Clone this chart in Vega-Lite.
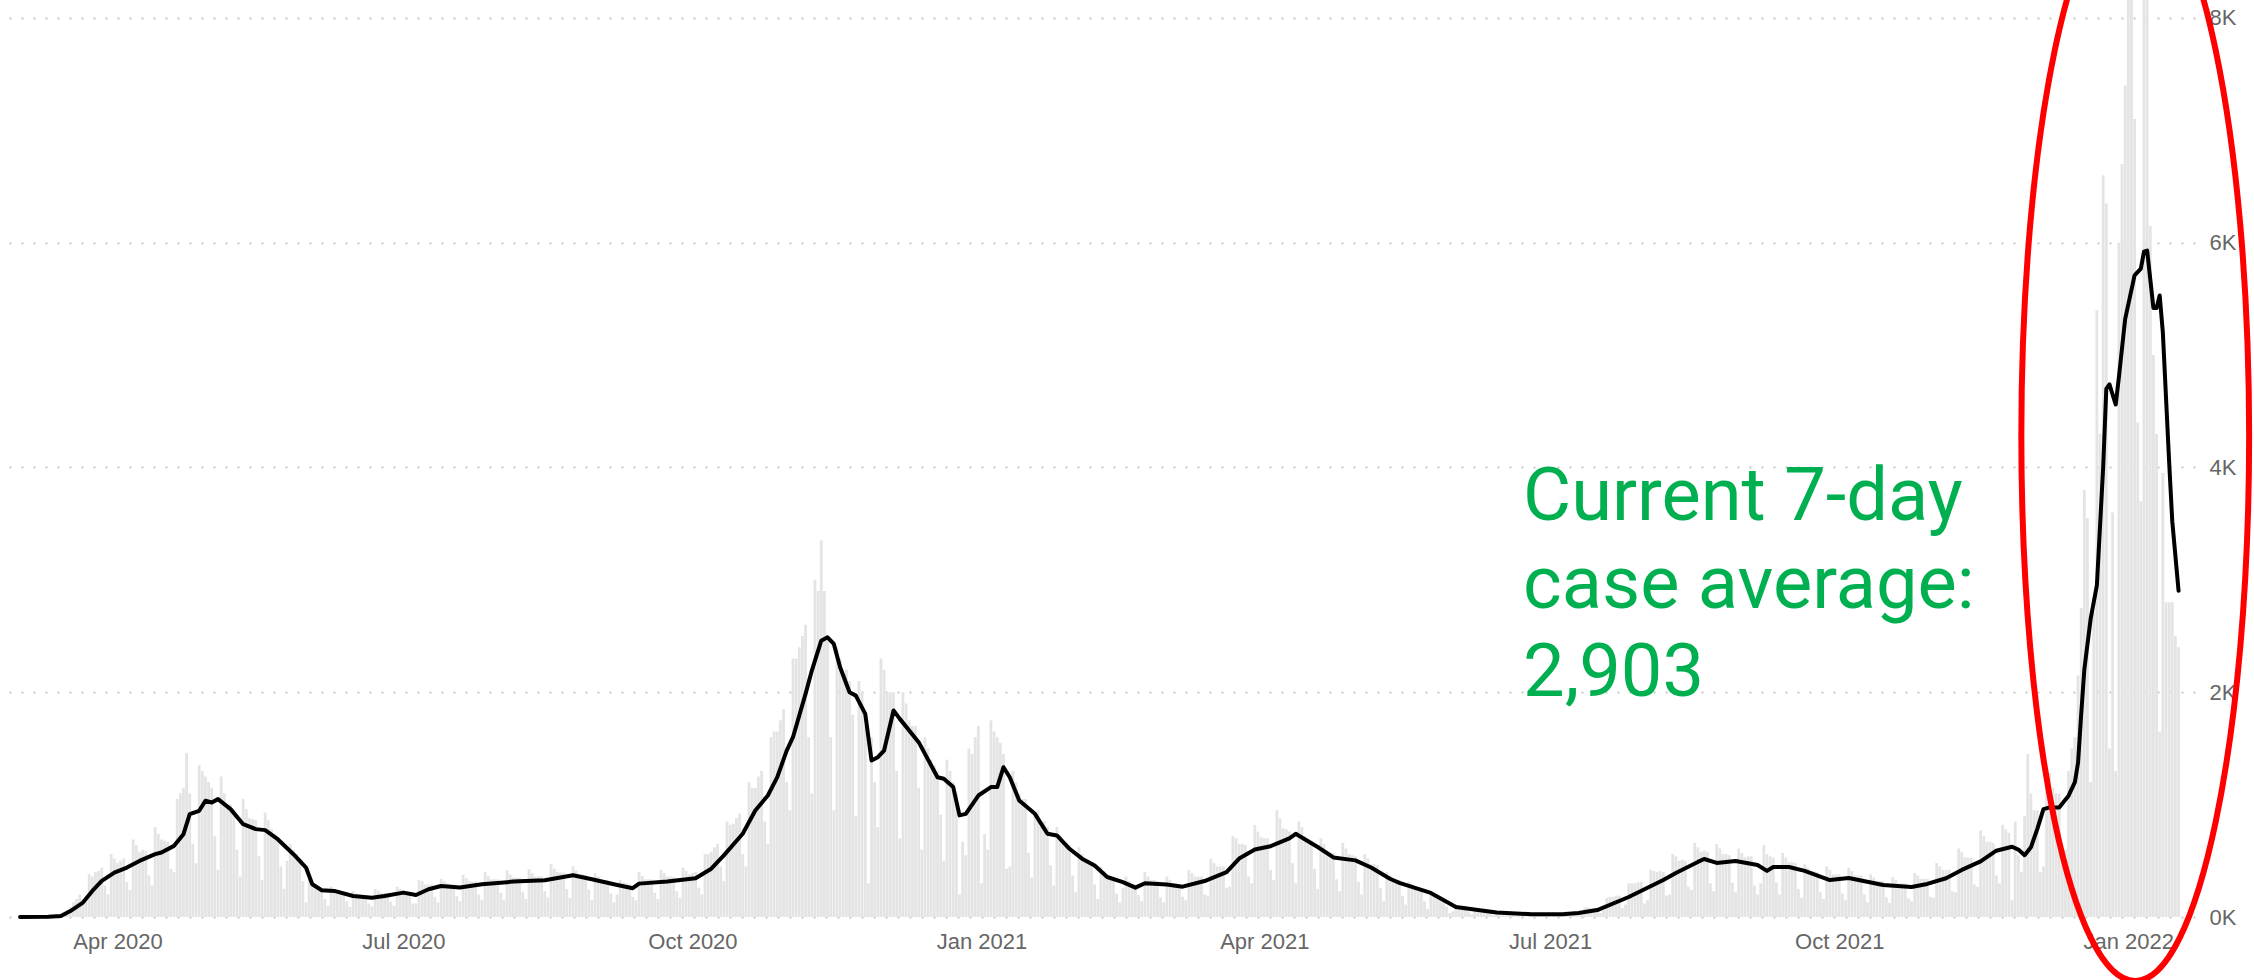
{
"$schema": "https://vega.github.io/schema/vega-lite/v6.json",
"width": 2195,
"height": 917,
"autosize": {"type": "none"},
"padding": {"left": 0, "top": 0, "right": 59, "bottom": 63},
"background": "white",
"config": {"view": {"stroke": null}},
"datasets": {
"daily": [
{"d":"2020-03-01","v":0},{"d":"2020-03-02","v":0},{"d":"2020-03-03","v":0},{"d":"2020-03-04","v":1},{"d":"2020-03-05","v":0},{"d":"2020-03-06","v":2},{"d":"2020-03-07","v":1},
{"d":"2020-03-08","v":2},{"d":"2020-03-09","v":5},{"d":"2020-03-10","v":6},{"d":"2020-03-11","v":10},{"d":"2020-03-12","v":12},{"d":"2020-03-13","v":15},{"d":"2020-03-14","v":6},
{"d":"2020-03-15","v":20},{"d":"2020-03-16","v":60},{"d":"2020-03-17","v":90},{"d":"2020-03-18","v":130},{"d":"2020-03-19","v":160},{"d":"2020-03-20","v":200},{"d":"2020-03-21","v":150},
{"d":"2020-03-22","v":150},{"d":"2020-03-23","v":380},{"d":"2020-03-24","v":360},{"d":"2020-03-25","v":400},{"d":"2020-03-26","v":410},{"d":"2020-03-27","v":440},{"d":"2020-03-28","v":280},
{"d":"2020-03-29","v":200},{"d":"2020-03-30","v":560},{"d":"2020-03-31","v":520},{"d":"2020-04-01","v":480},{"d":"2020-04-02","v":500},{"d":"2020-04-03","v":520},{"d":"2020-04-04","v":310},
{"d":"2020-04-05","v":240},{"d":"2020-04-06","v":690},{"d":"2020-04-07","v":640},{"d":"2020-04-08","v":580},{"d":"2020-04-09","v":600},{"d":"2020-04-10","v":590},{"d":"2020-04-11","v":370},
{"d":"2020-04-12","v":280},{"d":"2020-04-13","v":800},{"d":"2020-04-14","v":740},{"d":"2020-04-15","v":690},{"d":"2020-04-16","v":680},{"d":"2020-04-17","v":670},{"d":"2020-04-18","v":430},
{"d":"2020-04-19","v":400},{"d":"2020-04-20","v":1050},{"d":"2020-04-21","v":1100},{"d":"2020-04-22","v":1150},{"d":"2020-04-23","v":1460},{"d":"2020-04-24","v":1100},{"d":"2020-04-25","v":650},
{"d":"2020-04-26","v":480},{"d":"2020-04-27","v":1350},{"d":"2020-04-28","v":1300},{"d":"2020-04-29","v":1250},{"d":"2020-04-30","v":1200},{"d":"2020-05-01","v":1150},{"d":"2020-05-02","v":720},
{"d":"2020-05-03","v":420},{"d":"2020-05-04","v":1250},{"d":"2020-05-05","v":1100},{"d":"2020-05-06","v":980},{"d":"2020-05-07","v":1000},{"d":"2020-05-08","v":950},{"d":"2020-05-09","v":600},
{"d":"2020-05-10","v":360},{"d":"2020-05-11","v":1050},{"d":"2020-05-12","v":960},{"d":"2020-05-13","v":880},{"d":"2020-05-14","v":870},{"d":"2020-05-15","v":860},{"d":"2020-05-16","v":540},
{"d":"2020-05-17","v":330},{"d":"2020-05-18","v":930},{"d":"2020-05-19","v":860},{"d":"2020-05-20","v":780},{"d":"2020-05-21","v":740},{"d":"2020-05-22","v":700},{"d":"2020-05-23","v":450},
{"d":"2020-05-24","v":250},{"d":"2020-05-25","v":500},{"d":"2020-05-26","v":650},{"d":"2020-05-27","v":600},{"d":"2020-05-28","v":560},{"d":"2020-05-29","v":520},{"d":"2020-05-30","v":320},
{"d":"2020-05-31","v":130},{"d":"2020-06-01","v":330},{"d":"2020-06-02","v":300},{"d":"2020-06-03","v":270},{"d":"2020-06-04","v":260},{"d":"2020-06-05","v":250},{"d":"2020-06-06","v":160},
{"d":"2020-06-07","v":100},{"d":"2020-06-08","v":270},{"d":"2020-06-09","v":240},{"d":"2020-06-10","v":220},{"d":"2020-06-11","v":220},{"d":"2020-06-12","v":210},{"d":"2020-06-13","v":140},
{"d":"2020-06-14","v":90},{"d":"2020-06-15","v":230},{"d":"2020-06-16","v":210},{"d":"2020-06-17","v":190},{"d":"2020-06-18","v":195},{"d":"2020-06-19","v":190},{"d":"2020-06-20","v":120},
{"d":"2020-06-21","v":95},{"d":"2020-06-22","v":250},{"d":"2020-06-23","v":235},{"d":"2020-06-24","v":215},{"d":"2020-06-25","v":215},{"d":"2020-06-26","v":210},{"d":"2020-06-27","v":135},
{"d":"2020-06-28","v":100},{"d":"2020-06-29","v":270},{"d":"2020-06-30","v":250},{"d":"2020-07-01","v":230},{"d":"2020-07-02","v":230},{"d":"2020-07-03","v":200},{"d":"2020-07-04","v":120},
{"d":"2020-07-05","v":120},{"d":"2020-07-06","v":330},{"d":"2020-07-07","v":320},{"d":"2020-07-08","v":290},{"d":"2020-07-09","v":290},{"d":"2020-07-10","v":290},{"d":"2020-07-11","v":180},
{"d":"2020-07-12","v":130},{"d":"2020-07-13","v":340},{"d":"2020-07-14","v":320},{"d":"2020-07-15","v":300},{"d":"2020-07-16","v":290},{"d":"2020-07-17","v":290},{"d":"2020-07-18","v":185},
{"d":"2020-07-19","v":140},{"d":"2020-07-20","v":375},{"d":"2020-07-21","v":345},{"d":"2020-07-22","v":320},{"d":"2020-07-23","v":315},{"d":"2020-07-24","v":315},{"d":"2020-07-25","v":200},
{"d":"2020-07-26","v":150},{"d":"2020-07-27","v":400},{"d":"2020-07-28","v":365},{"d":"2020-07-29","v":335},{"d":"2020-07-30","v":335},{"d":"2020-07-31","v":335},{"d":"2020-08-01","v":215},
{"d":"2020-08-02","v":155},{"d":"2020-08-03","v":415},{"d":"2020-08-04","v":380},{"d":"2020-08-05","v":350},{"d":"2020-08-06","v":350},{"d":"2020-08-07","v":350},{"d":"2020-08-08","v":225},
{"d":"2020-08-09","v":160},{"d":"2020-08-10","v":425},{"d":"2020-08-11","v":390},{"d":"2020-08-12","v":360},{"d":"2020-08-13","v":360},{"d":"2020-08-14","v":360},{"d":"2020-08-15","v":230},
{"d":"2020-08-16","v":175},{"d":"2020-08-17","v":470},{"d":"2020-08-18","v":430},{"d":"2020-08-19","v":400},{"d":"2020-08-20","v":395},{"d":"2020-08-21","v":395},{"d":"2020-08-22","v":250},
{"d":"2020-08-23","v":170},{"d":"2020-08-24","v":450},{"d":"2020-08-25","v":415},{"d":"2020-08-26","v":380},{"d":"2020-08-27","v":380},{"d":"2020-08-28","v":375},{"d":"2020-08-29","v":245},
{"d":"2020-08-30","v":150},{"d":"2020-08-31","v":390},{"d":"2020-09-01","v":360},{"d":"2020-09-02","v":330},{"d":"2020-09-03","v":330},{"d":"2020-09-04","v":330},{"d":"2020-09-05","v":210},
{"d":"2020-09-06","v":130},{"d":"2020-09-07","v":200},{"d":"2020-09-08","v":330},{"d":"2020-09-09","v":310},{"d":"2020-09-10","v":300},{"d":"2020-09-11","v":290},{"d":"2020-09-12","v":180},
{"d":"2020-09-13","v":150},{"d":"2020-09-14","v":400},{"d":"2020-09-15","v":365},{"d":"2020-09-16","v":335},{"d":"2020-09-17","v":335},{"d":"2020-09-18","v":335},{"d":"2020-09-19","v":215},
{"d":"2020-09-20","v":160},{"d":"2020-09-21","v":420},{"d":"2020-09-22","v":390},{"d":"2020-09-23","v":360},{"d":"2020-09-24","v":360},{"d":"2020-09-25","v":355},{"d":"2020-09-26","v":230},
{"d":"2020-09-27","v":170},{"d":"2020-09-28","v":440},{"d":"2020-09-29","v":410},{"d":"2020-09-30","v":380},{"d":"2020-10-01","v":390},{"d":"2020-10-02","v":400},{"d":"2020-10-03","v":260},
{"d":"2020-10-04","v":200},{"d":"2020-10-05","v":560},{"d":"2020-10-06","v":560},{"d":"2020-10-07","v":580},{"d":"2020-10-08","v":620},{"d":"2020-10-09","v":650},{"d":"2020-10-10","v":450},
{"d":"2020-10-11","v":320},{"d":"2020-10-12","v":850},{"d":"2020-10-13","v":820},{"d":"2020-10-14","v":830},{"d":"2020-10-15","v":880},{"d":"2020-10-16","v":920},{"d":"2020-10-17","v":560},
{"d":"2020-10-18","v":450},{"d":"2020-10-19","v":1200},{"d":"2020-10-20","v":1150},{"d":"2020-10-21","v":1150},{"d":"2020-10-22","v":1250},{"d":"2020-10-23","v":1300},{"d":"2020-10-24","v":850},
{"d":"2020-10-25","v":650},{"d":"2020-10-26","v":1600},{"d":"2020-10-27","v":1650},{"d":"2020-10-28","v":1650},{"d":"2020-10-29","v":1750},{"d":"2020-10-30","v":1850},{"d":"2020-10-31","v":1200},
{"d":"2020-11-01","v":950},{"d":"2020-11-02","v":2300},{"d":"2020-11-03","v":2300},{"d":"2020-11-04","v":2400},{"d":"2020-11-05","v":2500},{"d":"2020-11-06","v":2600},{"d":"2020-11-07","v":1600},
{"d":"2020-11-08","v":1100},{"d":"2020-11-09","v":3000},{"d":"2020-11-10","v":2900},{"d":"2020-11-11","v":3350},{"d":"2020-11-12","v":2900},{"d":"2020-11-13","v":2500},{"d":"2020-11-14","v":1600},
{"d":"2020-11-15","v":950},{"d":"2020-11-16","v":2400},{"d":"2020-11-17","v":2300},{"d":"2020-11-18","v":2150},{"d":"2020-11-19","v":2200},{"d":"2020-11-20","v":2100},{"d":"2020-11-21","v":1800},
{"d":"2020-11-22","v":900},{"d":"2020-11-23","v":2100},{"d":"2020-11-24","v":2000},{"d":"2020-11-25","v":1700},{"d":"2020-11-26","v":300},{"d":"2020-11-27","v":1600},{"d":"2020-11-28","v":1200},
{"d":"2020-11-29","v":800},{"d":"2020-11-30","v":2300},{"d":"2020-12-01","v":2200},{"d":"2020-12-02","v":2000},{"d":"2020-12-03","v":2000},{"d":"2020-12-04","v":2000},{"d":"2020-12-05","v":1300},
{"d":"2020-12-06","v":700},{"d":"2020-12-07","v":2000},{"d":"2020-12-08","v":1900},{"d":"2020-12-09","v":1750},{"d":"2020-12-10","v":1700},{"d":"2020-12-11","v":1700},{"d":"2020-12-12","v":1150},
{"d":"2020-12-13","v":600},{"d":"2020-12-14","v":1600},{"d":"2020-12-15","v":1500},{"d":"2020-12-16","v":1400},{"d":"2020-12-17","v":1350},{"d":"2020-12-18","v":1300},{"d":"2020-12-19","v":910},
{"d":"2020-12-20","v":500},{"d":"2020-12-21","v":1400},{"d":"2020-12-22","v":1300},{"d":"2020-12-23","v":1200},{"d":"2020-12-24","v":1100},{"d":"2020-12-25","v":200},{"d":"2020-12-26","v":670},
{"d":"2020-12-27","v":550},{"d":"2020-12-28","v":1500},{"d":"2020-12-29","v":1450},{"d":"2020-12-30","v":1600},{"d":"2020-12-31","v":1700},{"d":"2021-01-01","v":300},{"d":"2021-01-02","v":740},
{"d":"2021-01-03","v":600},{"d":"2021-01-04","v":1750},{"d":"2021-01-05","v":1650},{"d":"2021-01-06","v":1600},{"d":"2021-01-07","v":1550},{"d":"2021-01-08","v":1450},{"d":"2021-01-09","v":430},
{"d":"2021-01-10","v":450},{"d":"2021-01-11","v":1300},{"d":"2021-01-12","v":1200},{"d":"2021-01-13","v":1100},{"d":"2021-01-14","v":1050},{"d":"2021-01-15","v":1050},{"d":"2021-01-16","v":570},
{"d":"2021-01-17","v":350},{"d":"2021-01-18","v":900},{"d":"2021-01-19","v":950},{"d":"2021-01-20","v":850},{"d":"2021-01-21","v":850},{"d":"2021-01-22","v":800},{"d":"2021-01-23","v":460},
{"d":"2021-01-24","v":280},{"d":"2021-01-25","v":800},{"d":"2021-01-26","v":730},{"d":"2021-01-27","v":660},{"d":"2021-01-28","v":650},{"d":"2021-01-29","v":640},{"d":"2021-01-30","v":370},
{"d":"2021-01-31","v":220},{"d":"2021-02-01","v":620},{"d":"2021-02-02","v":560},{"d":"2021-02-03","v":520},{"d":"2021-02-04","v":510},{"d":"2021-02-05","v":490},{"d":"2021-02-06","v":290},
{"d":"2021-02-07","v":160},{"d":"2021-02-08","v":450},{"d":"2021-02-09","v":410},{"d":"2021-02-10","v":370},{"d":"2021-02-11","v":360},{"d":"2021-02-12","v":350},{"d":"2021-02-13","v":210},
{"d":"2021-02-14","v":130},{"d":"2021-02-15","v":260},{"d":"2021-02-16","v":360},{"d":"2021-02-17","v":320},{"d":"2021-02-18","v":300},{"d":"2021-02-19","v":290},{"d":"2021-02-20","v":195},
{"d":"2021-02-21","v":140},{"d":"2021-02-22","v":400},{"d":"2021-02-23","v":360},{"d":"2021-02-24","v":330},{"d":"2021-02-25","v":330},{"d":"2021-02-26","v":320},{"d":"2021-02-27","v":175},
{"d":"2021-02-28","v":130},{"d":"2021-03-01","v":360},{"d":"2021-03-02","v":330},{"d":"2021-03-03","v":300},{"d":"2021-03-04","v":300},{"d":"2021-03-05","v":290},{"d":"2021-03-06","v":180},
{"d":"2021-03-07","v":150},{"d":"2021-03-08","v":420},{"d":"2021-03-09","v":390},{"d":"2021-03-10","v":360},{"d":"2021-03-11","v":360},{"d":"2021-03-12","v":360},{"d":"2021-03-13","v":200},
{"d":"2021-03-14","v":190},{"d":"2021-03-15","v":520},{"d":"2021-03-16","v":480},{"d":"2021-03-17","v":450},{"d":"2021-03-18","v":450},{"d":"2021-03-19","v":450},{"d":"2021-03-20","v":260},
{"d":"2021-03-21","v":270},{"d":"2021-03-22","v":720},{"d":"2021-03-23","v":700},{"d":"2021-03-24","v":650},{"d":"2021-03-25","v":650},{"d":"2021-03-26","v":640},{"d":"2021-03-27","v":360},
{"d":"2021-03-28","v":300},{"d":"2021-03-29","v":820},{"d":"2021-03-30","v":760},{"d":"2021-03-31","v":710},{"d":"2021-04-01","v":700},{"d":"2021-04-02","v":700},{"d":"2021-04-03","v":420},
{"d":"2021-04-04","v":330},{"d":"2021-04-05","v":950},{"d":"2021-04-06","v":880},{"d":"2021-04-07","v":790},{"d":"2021-04-08","v":780},{"d":"2021-04-09","v":760},{"d":"2021-04-10","v":480},
{"d":"2021-04-11","v":300},{"d":"2021-04-12","v":850},{"d":"2021-04-13","v":800},{"d":"2021-04-14","v":720},{"d":"2021-04-15","v":700},{"d":"2021-04-16","v":680},{"d":"2021-04-17","v":430},
{"d":"2021-04-18","v":250},{"d":"2021-04-19","v":700},{"d":"2021-04-20","v":650},{"d":"2021-04-21","v":590},{"d":"2021-04-22","v":580},{"d":"2021-04-23","v":570},{"d":"2021-04-24","v":335},
{"d":"2021-04-25","v":230},{"d":"2021-04-26","v":660},{"d":"2021-04-27","v":610},{"d":"2021-04-28","v":560},{"d":"2021-04-29","v":550},{"d":"2021-04-30","v":540},{"d":"2021-05-01","v":315},
{"d":"2021-05-02","v":200},{"d":"2021-05-03","v":560},{"d":"2021-05-04","v":520},{"d":"2021-05-05","v":470},{"d":"2021-05-06","v":470},{"d":"2021-05-07","v":460},{"d":"2021-05-08","v":260},
{"d":"2021-05-09","v":140},{"d":"2021-05-10","v":400},{"d":"2021-05-11","v":370},{"d":"2021-05-12","v":340},{"d":"2021-05-13","v":330},{"d":"2021-05-14","v":330},{"d":"2021-05-15","v":190},
{"d":"2021-05-16","v":110},{"d":"2021-05-17","v":310},{"d":"2021-05-18","v":290},{"d":"2021-05-19","v":260},{"d":"2021-05-20","v":250},{"d":"2021-05-21","v":250},{"d":"2021-05-22","v":140},
{"d":"2021-05-23","v":70},{"d":"2021-05-24","v":200},{"d":"2021-05-25","v":190},{"d":"2021-05-26","v":170},{"d":"2021-05-27","v":165},{"d":"2021-05-28","v":160},{"d":"2021-05-29","v":95},
{"d":"2021-05-30","v":35},{"d":"2021-05-31","v":50},{"d":"2021-06-01","v":110},{"d":"2021-06-02","v":95},{"d":"2021-06-03","v":90},{"d":"2021-06-04","v":95},{"d":"2021-06-05","v":50},
{"d":"2021-06-06","v":25},{"d":"2021-06-07","v":65},{"d":"2021-06-08","v":60},{"d":"2021-06-09","v":55},{"d":"2021-06-10","v":55},{"d":"2021-06-11","v":55},{"d":"2021-06-12","v":35},
{"d":"2021-06-13","v":17},{"d":"2021-06-14","v":46},{"d":"2021-06-15","v":42},{"d":"2021-06-16","v":39},{"d":"2021-06-17","v":39},{"d":"2021-06-18","v":39},{"d":"2021-06-19","v":23},
{"d":"2021-06-20","v":12},{"d":"2021-06-21","v":33},{"d":"2021-06-22","v":30},{"d":"2021-06-23","v":28},{"d":"2021-06-24","v":28},{"d":"2021-06-25","v":27},{"d":"2021-06-26","v":17},
{"d":"2021-06-27","v":12},{"d":"2021-06-28","v":32},{"d":"2021-06-29","v":29},{"d":"2021-06-30","v":27},{"d":"2021-07-01","v":26},{"d":"2021-07-02","v":26},{"d":"2021-07-03","v":16},
{"d":"2021-07-04","v":10},{"d":"2021-07-05","v":20},{"d":"2021-07-06","v":50},{"d":"2021-07-07","v":48},{"d":"2021-07-08","v":50},{"d":"2021-07-09","v":50},{"d":"2021-07-10","v":17},
{"d":"2021-07-11","v":30},{"d":"2021-07-12","v":85},{"d":"2021-07-13","v":85},{"d":"2021-07-14","v":80},{"d":"2021-07-15","v":80},{"d":"2021-07-16","v":80},{"d":"2021-07-17","v":36},
{"d":"2021-07-18","v":60},{"d":"2021-07-19","v":170},{"d":"2021-07-20","v":180},{"d":"2021-07-21","v":180},{"d":"2021-07-22","v":190},{"d":"2021-07-23","v":190},{"d":"2021-07-24","v":80},
{"d":"2021-07-25","v":110},{"d":"2021-07-26","v":300},{"d":"2021-07-27","v":300},{"d":"2021-07-28","v":300},{"d":"2021-07-29","v":310},{"d":"2021-07-30","v":310},{"d":"2021-07-31","v":120},
{"d":"2021-08-01","v":150},{"d":"2021-08-02","v":420},{"d":"2021-08-03","v":410},{"d":"2021-08-04","v":400},{"d":"2021-08-05","v":410},{"d":"2021-08-06","v":400},{"d":"2021-08-07","v":190},
{"d":"2021-08-08","v":200},{"d":"2021-08-09","v":560},{"d":"2021-08-10","v":540},{"d":"2021-08-11","v":500},{"d":"2021-08-12","v":510},{"d":"2021-08-13","v":500},{"d":"2021-08-14","v":270},
{"d":"2021-08-15","v":240},{"d":"2021-08-16","v":660},{"d":"2021-08-17","v":620},{"d":"2021-08-18","v":580},{"d":"2021-08-19","v":590},{"d":"2021-08-20","v":580},{"d":"2021-08-21","v":300},
{"d":"2021-08-22","v":230},{"d":"2021-08-23","v":650},{"d":"2021-08-24","v":610},{"d":"2021-08-25","v":560},{"d":"2021-08-26","v":560},{"d":"2021-08-27","v":550},{"d":"2021-08-28","v":305},
{"d":"2021-08-29","v":220},{"d":"2021-08-30","v":610},{"d":"2021-08-31","v":570},{"d":"2021-09-01","v":530},{"d":"2021-09-02","v":540},{"d":"2021-09-03","v":540},{"d":"2021-09-04","v":280},
{"d":"2021-09-05","v":200},{"d":"2021-09-06","v":300},{"d":"2021-09-07","v":640},{"d":"2021-09-08","v":560},{"d":"2021-09-09","v":540},{"d":"2021-09-10","v":530},{"d":"2021-09-11","v":310},
{"d":"2021-09-12","v":200},{"d":"2021-09-13","v":570},{"d":"2021-09-14","v":530},{"d":"2021-09-15","v":490},{"d":"2021-09-16","v":490},{"d":"2021-09-17","v":480},{"d":"2021-09-18","v":250},
{"d":"2021-09-19","v":170},{"d":"2021-09-20","v":470},{"d":"2021-09-21","v":440},{"d":"2021-09-22","v":410},{"d":"2021-09-23","v":410},{"d":"2021-09-24","v":400},{"d":"2021-09-25","v":220},
{"d":"2021-09-26","v":160},{"d":"2021-09-27","v":450},{"d":"2021-09-28","v":420},{"d":"2021-09-29","v":380},{"d":"2021-09-30","v":380},{"d":"2021-10-01","v":380},{"d":"2021-10-02","v":210},
{"d":"2021-10-03","v":150},{"d":"2021-10-04","v":440},{"d":"2021-10-05","v":410},{"d":"2021-10-06","v":370},{"d":"2021-10-07","v":370},{"d":"2021-10-08","v":370},{"d":"2021-10-09","v":200},
{"d":"2021-10-10","v":130},{"d":"2021-10-11","v":380},{"d":"2021-10-12","v":350},{"d":"2021-10-13","v":320},{"d":"2021-10-14","v":320},{"d":"2021-10-15","v":320},{"d":"2021-10-16","v":175},
{"d":"2021-10-17","v":125},{"d":"2021-10-18","v":355},{"d":"2021-10-19","v":330},{"d":"2021-10-20","v":300},{"d":"2021-10-21","v":300},{"d":"2021-10-22","v":300},{"d":"2021-10-23","v":166},
{"d":"2021-10-24","v":140},{"d":"2021-10-25","v":390},{"d":"2021-10-26","v":370},{"d":"2021-10-27","v":340},{"d":"2021-10-28","v":340},{"d":"2021-10-29","v":340},{"d":"2021-10-30","v":180},
{"d":"2021-10-31","v":170},{"d":"2021-11-01","v":480},{"d":"2021-11-02","v":450},{"d":"2021-11-03","v":420},{"d":"2021-11-04","v":420},{"d":"2021-11-05","v":420},{"d":"2021-11-06","v":230},
{"d":"2021-11-07","v":220},{"d":"2021-11-08","v":610},{"d":"2021-11-09","v":580},{"d":"2021-11-10","v":530},{"d":"2021-11-11","v":530},{"d":"2021-11-12","v":530},{"d":"2021-11-13","v":290},
{"d":"2021-11-14","v":270},{"d":"2021-11-15","v":770},{"d":"2021-11-16","v":720},{"d":"2021-11-17","v":670},{"d":"2021-11-18","v":670},{"d":"2021-11-19","v":660},{"d":"2021-11-20","v":370},
{"d":"2021-11-21","v":300},{"d":"2021-11-22","v":820},{"d":"2021-11-23","v":780},{"d":"2021-11-24","v":750},{"d":"2021-11-25","v":150},{"d":"2021-11-26","v":850},{"d":"2021-11-27","v":550},
{"d":"2021-11-28","v":400},{"d":"2021-11-29","v":900},{"d":"2021-11-30","v":1450},{"d":"2021-12-01","v":1100},{"d":"2021-12-02","v":950},{"d":"2021-12-03","v":950},{"d":"2021-12-04","v":400},
{"d":"2021-12-05","v":450},{"d":"2021-12-06","v":1300},{"d":"2021-12-07","v":1280},{"d":"2021-12-08","v":1150},{"d":"2021-12-09","v":1100},{"d":"2021-12-10","v":1100},{"d":"2021-12-11","v":510},
{"d":"2021-12-12","v":600},{"d":"2021-12-13","v":1300},{"d":"2021-12-14","v":1500},{"d":"2021-12-15","v":1600},{"d":"2021-12-16","v":2150},{"d":"2021-12-17","v":2750},{"d":"2021-12-18","v":3800},
{"d":"2021-12-19","v":3550},{"d":"2021-12-20","v":1200},{"d":"2021-12-21","v":2700},{"d":"2021-12-22","v":5400},{"d":"2021-12-23","v":4300},{"d":"2021-12-24","v":6600},{"d":"2021-12-25","v":6350},
{"d":"2021-12-26","v":1500},{"d":"2021-12-27","v":3600},{"d":"2021-12-28","v":1300},{"d":"2021-12-29","v":6000},{"d":"2021-12-30","v":6700},{"d":"2021-12-31","v":7400},{"d":"2022-01-01","v":8400},
{"d":"2022-01-02","v":8800},{"d":"2022-01-03","v":7100},{"d":"2022-01-04","v":4400},{"d":"2022-01-05","v":3700},{"d":"2022-01-06","v":8900},{"d":"2022-01-07","v":9000},{"d":"2022-01-08","v":6150},
{"d":"2022-01-09","v":5000},{"d":"2022-01-10","v":4300},{"d":"2022-01-11","v":1650},{"d":"2022-01-12","v":3950},{"d":"2022-01-13","v":2800},{"d":"2022-01-14","v":2800},{"d":"2022-01-15","v":2800},
{"d":"2022-01-16","v":2500},{"d":"2022-01-17","v":2400}
],
"avg": [
{"d":"2020-03-01","v":0},{"d":"2020-03-10","v":2},{"d":"2020-03-14","v":8},{"d":"2020-03-17","v":53},{"d":"2020-03-21","v":128},{"d":"2020-03-24","v":232},{"d":"2020-03-27","v":321},{"d":"2020-03-31","v":395},
{"d":"2020-04-04","v":440},{"d":"2020-04-08","v":499},{"d":"2020-04-13","v":559},{"d":"2020-04-15","v":574},{"d":"2020-04-19","v":633},{"d":"2020-04-22","v":737},{"d":"2020-04-24","v":915},{"d":"2020-04-27","v":945},
{"d":"2020-04-29","v":1034},{"d":"2020-05-01","v":1019},{"d":"2020-05-03","v":1049},{"d":"2020-05-07","v":960},{"d":"2020-05-11","v":826},{"d":"2020-05-15","v":782},{"d":"2020-05-18","v":773},{"d":"2020-05-22","v":692},
{"d":"2020-05-27","v":559},{"d":"2020-05-31","v":440},{"d":"2020-06-02","v":291},{"d":"2020-06-05","v":238},{"d":"2020-06-09","v":232},{"d":"2020-06-15","v":187},{"d":"2020-06-21","v":172},{"d":"2020-06-25","v":187},
{"d":"2020-07-01","v":217},{"d":"2020-07-05","v":196},{"d":"2020-07-09","v":247},{"d":"2020-07-13","v":276},{"d":"2020-07-19","v":262},{"d":"2020-07-26","v":291},{"d":"2020-08-05","v":315},{"d":"2020-08-15","v":327},
{"d":"2020-08-24","v":371},{"d":"2020-08-30","v":336},{"d":"2020-09-06","v":291},{"d":"2020-09-12","v":256},{"d":"2020-09-14","v":297},{"d":"2020-09-23","v":315},{"d":"2020-10-02","v":345},{"d":"2020-10-07","v":430},
{"d":"2020-10-11","v":548},{"d":"2020-10-17","v":741},{"d":"2020-10-21","v":948},{"d":"2020-10-25","v":1081},{"d":"2020-10-28","v":1244},{"d":"2020-10-31","v":1481},{"d":"2020-11-02","v":1600},{"d":"2020-11-06","v":1985},
{"d":"2020-11-08","v":2193},{"d":"2020-11-11","v":2459},{"d":"2020-11-13","v":2489},{"d":"2020-11-15","v":2430},{"d":"2020-11-17","v":2222},{"d":"2020-11-20","v":2000},{"d":"2020-11-22","v":1970},{"d":"2020-11-25","v":1807},
{"d":"2020-11-27","v":1393},{"d":"2020-11-29","v":1422},{"d":"2020-12-01","v":1481},{"d":"2020-12-04","v":1837},{"d":"2020-12-06","v":1763},{"d":"2020-12-12","v":1556},{"d":"2020-12-18","v":1244},{"d":"2020-12-20","v":1230},
{"d":"2020-12-23","v":1156},{"d":"2020-12-25","v":904},{"d":"2020-12-27","v":918},{"d":"2020-12-31","v":1081},{"d":"2021-01-04","v":1156},{"d":"2021-01-06","v":1156},{"d":"2021-01-08","v":1333},{"d":"2021-01-10","v":1244},
{"d":"2021-01-13","v":1037},{"d":"2021-01-18","v":918},{"d":"2021-01-22","v":741},{"d":"2021-01-25","v":726},{"d":"2021-01-29","v":607},{"d":"2021-02-02","v":519},{"d":"2021-02-06","v":459},{"d":"2021-02-10","v":356},
{"d":"2021-02-15","v":311},{"d":"2021-02-19","v":261},{"d":"2021-02-22","v":300},{"d":"2021-03-01","v":290},{"d":"2021-03-06","v":270},{"d":"2021-03-13","v":320},{"d":"2021-03-20","v":400},{"d":"2021-03-24","v":520},
{"d":"2021-03-29","v":600},{"d":"2021-04-03","v":630},{"d":"2021-04-09","v":700},{"d":"2021-04-11","v":740},{"d":"2021-04-14","v":690},{"d":"2021-04-18","v":623},{"d":"2021-04-23","v":530},{"d":"2021-04-30","v":504},
{"d":"2021-05-05","v":440},{"d":"2021-05-11","v":340},{"d":"2021-05-14","v":303},{"d":"2021-05-24","v":214},{"d":"2021-06-01","v":89},{"d":"2021-06-08","v":62},{"d":"2021-06-14","v":40},{"d":"2021-06-25","v":25},
{"d":"2021-07-05","v":25},{"d":"2021-07-10","v":35},{"d":"2021-07-16","v":62},{"d":"2021-07-26","v":178},{"d":"2021-08-06","v":329},{"d":"2021-08-10","v":392},{"d":"2021-08-17","v":490},{"d":"2021-08-19","v":516},
{"d":"2021-08-23","v":481},{"d":"2021-08-29","v":499},{"d":"2021-09-05","v":463},{"d":"2021-09-08","v":410},{"d":"2021-09-10","v":445},{"d":"2021-09-15","v":445},{"d":"2021-09-20","v":410},{"d":"2021-09-28","v":329},
{"d":"2021-10-04","v":347},{"d":"2021-10-15","v":285},{"d":"2021-10-24","v":267},{"d":"2021-10-29","v":294},{"d":"2021-11-04","v":345},{"d":"2021-11-09","v":419},{"d":"2021-11-15","v":495},{"d":"2021-11-20","v":590},
{"d":"2021-11-25","v":625},{"d":"2021-11-27","v":600},{"d":"2021-11-29","v":550},{"d":"2021-12-01","v":620},{"d":"2021-12-03","v":780},{"d":"2021-12-05","v":960},{"d":"2021-12-07","v":975},{"d":"2021-12-10","v":975},
{"d":"2021-12-13","v":1080},{"d":"2021-12-15","v":1200},{"d":"2021-12-16","v":1370},{"d":"2021-12-17","v":1800},{"d":"2021-12-18","v":2200},{"d":"2021-12-20","v":2650},{"d":"2021-12-22","v":2950},{"d":"2021-12-24","v":4000},
{"d":"2021-12-25","v":4700},{"d":"2021-12-26","v":4740},{"d":"2021-12-28","v":4560},{"d":"2021-12-29","v":4800},{"d":"2021-12-31","v":5320},{"d":"2022-01-03","v":5710},{"d":"2022-01-05","v":5770},{"d":"2022-01-06","v":5920},
{"d":"2022-01-07","v":5930},{"d":"2022-01-09","v":5420},{"d":"2022-01-10","v":5420},{"d":"2022-01-11","v":5530},{"d":"2022-01-12","v":5200},{"d":"2022-01-14","v":4050},{"d":"2022-01-15","v":3520},{"d":"2022-01-17","v":2903}
],
"note": [{"d":"2021-06-22T09:00:00Z","v":3533,"t":"Current 7-day\ncase average:\n2,903"}],
"ring": [{"d":"2022-01-03T05:00:00Z","v":4280}]
},
"encoding": {
"x": {"field": "d", "type": "temporal",
 "scale": {"type": "utc", "domain": [{"year":2020,"month":2,"date":25,"hours":4,"minutes":48,"utc":true},{"year":2022,"month":1,"date":20,"hours":15,"minutes":22,"utc":true}]},
 "axis": {"title": null, "values": [
   {"year":2020,"month":4,"date":1,"utc":true},{"year":2020,"month":7,"date":1,"utc":true},{"year":2020,"month":10,"date":1,"utc":true},
   {"year":2021,"month":1,"date":1,"utc":true},{"year":2021,"month":4,"date":1,"utc":true},{"year":2021,"month":7,"date":1,"utc":true},
   {"year":2021,"month":10,"date":1,"utc":true},{"year":2022,"month":1,"date":1,"utc":true}],
  "format": "%b %Y", "labelFont": "Liberation Sans", "labelFontSize": 22, "labelColor": "#666666",
  "labelPadding": 14, "ticks": false, "domain": false, "grid": false, "labelFlush": false, "labelOverlap": false}},
"y": {"field": "v", "type": "quantitative",
 "scale": {"domain": [0, 8160], "nice": false, "zero": true},
 "axis": {"title": null, "orient": "right", "values": [0, 2000, 4000, 6000, 8000],
  "labelExpr": "(datum.value / 1000) + 'K'", "labelFont": "Liberation Sans", "labelFontSize": 22,
  "labelColor": "#666666", "labelPadding": 14, "ticks": false, "domain": false, "grid": true,
  "gridColor": "#c8c8c8", "gridDash": [2, 10], "gridWidth": 2, "labelBaseline": "middle", "labelFlush": false}}
},
"layer": [
{"data": {"name": "daily"}, "mark": {"type": "bar", "color": "#e4e4e4", "width": 2.8, "clip": true}},
{"data": {"name": "avg"}, "mark": {"type": "line", "color": "#000000", "strokeWidth": 4, "strokeJoin": "round", "strokeCap": "round"}},
{"data": {"name": "note"}, "mark": {"type": "text", "align": "left", "baseline": "alphabetic", "font": "Roboto", "fontSize": 74, "lineHeight": 88, "lineBreak": "\n", "color": "#00b050"},
 "encoding": {"text": {"field": "t", "type": "nominal"}}},
{"data": {"name": "ring"}, "mark": {"type": "point", "shape": "M -0.209 0 A 0.209 1 0 1 0 0.209 0 A 0.209 1 0 1 0 -0.209 0 Z", "size": 1188100, "filled": false, "stroke": "#ff0000", "strokeWidth": 6, "opacity": 1, "clip": false}}
]
}
